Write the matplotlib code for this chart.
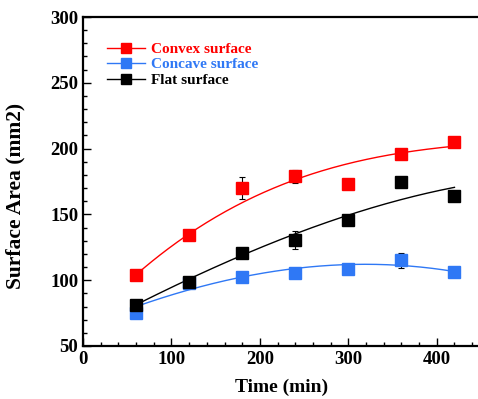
import numpy as np
import matplotlib
matplotlib.use("Agg")
import matplotlib.pyplot as plt
from matplotlib.ticker import MultipleLocator

time = [60, 120, 180, 240, 300, 360, 420]

convex = [104, 134, 170, 179, 173, 196, 205]
convex_err = [0, 0, 8.5, 5, 0, 0, 0]
convex_fit = [104.6, 134, 159.7, 177, 188, 196.6, 202]

concave = [75, 98, 102.5, 105.5, 108.5, 115, 106]
concave_err = [0, 0, 0, 0, 0, 6, 0]
concave_fit = [80, 92.5, 102.7, 109, 111.5, 111.5, 106.5]

flat = [81, 99, 121, 130.5, 146, 175, 164]
flat_err = [2, 1.5, 2, 6.7, 2, 3, 4]
flat_fit = [81, 101.7, 119, 134, 150, 161.7, 170.3]

labels = ["Convex surface", "Concave surface", "Flat surface"]
colors = ["#ff0000", "#2f78f5", "#000000"]

plt.rcParams['font.family'] = ['Liberation Serif', 'DejaVu Serif']
plt.rcParams['font.weight'] = 'bold'

fig = plt.figure(figsize=(4.78, 3.99), dpi=100)
ax = fig.add_axes([83/478, 53/399, 398/478, 329/399])

series = [(convex, convex_err, convex_fit), (concave, concave_err, concave_fit), (flat, flat_err, flat_fit)]
xs = np.linspace(time[0], time[-1], 200)
handles = []
for (vals, err, fit), lab, c in zip(series, labels, colors):
    coef = np.polyfit(time, fit, 3)
    ax.plot(xs, np.polyval(coef, xs), color=c, lw=1.0, zorder=2)
    ax.errorbar(time, vals, yerr=err, fmt='none', ecolor='black', elinewidth=0.8, capsize=2.5, capthick=0.8, zorder=3)
    ax.plot(time, vals, 's', color=c, ms=8.5, zorder=4)
    h, = ax.plot([], [], '-s', color=c, ms=7, lw=1.0, label=lab)
    handles.append(h)

ax.set_xlim(0, 450)
ax.set_ylim(50, 300)
ax.xaxis.set_major_locator(MultipleLocator(100))
ax.xaxis.set_minor_locator(MultipleLocator(20))
ax.yaxis.set_major_locator(MultipleLocator(50))
ax.yaxis.set_minor_locator(MultipleLocator(10))
ax.tick_params(which='both', direction='in', top=False, right=False, labelsize=13.5, width=1.0)
ax.tick_params(which='major', length=6)
ax.tick_params(which='minor', length=3)
for s in ax.spines.values():
    s.set_linewidth(1.6)
for t in ax.get_xticklabels() + ax.get_yticklabels():
    t.set_fontweight('bold')

ax.set_xlabel("Time (min)", fontsize=14, fontweight='bold', labelpad=8)
ax.set_ylabel("Surface Area (mm2)", fontsize=15.5, fontweight='bold')
ax.yaxis.set_label_coords(-0.145, 0.456)

leg = ax.legend(handles=handles, loc='upper left', bbox_to_anchor=(0.045, 0.942), frameon=False,
                prop={'family': 'Liberation Serif', 'weight': 'bold', 'size': 11},
                handlelength=2.5, handletextpad=0.4, labelspacing=0.12, borderaxespad=0)
for t, c in zip(leg.get_texts(), colors):
    t.set_color(c)

fig.savefig("out.png", dpi=100)
